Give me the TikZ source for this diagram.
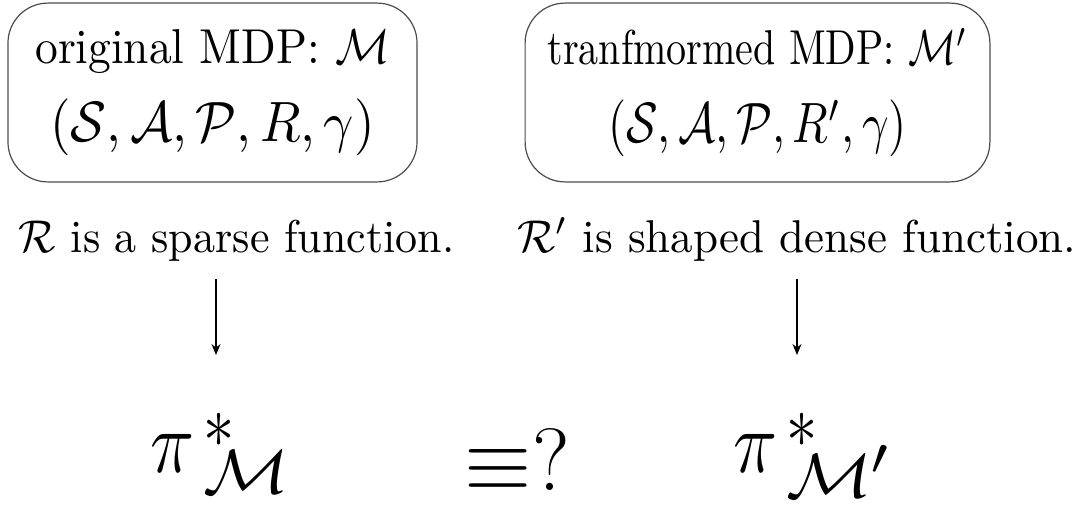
\documentclass[tikz,border=0pt]{standalone}
\usepackage{graphicx}
\usetikzlibrary{arrows.meta}
\newcommand{\lowstar}{\smash{\raisebox{-2pt}{$\scriptstyle *$}}}
\newcommand{\flatsub}[1]{\scalebox{1.15}[0.85]{$\scriptstyle #1$}}
\newcommand{\bigline}[1]{\scalebox{1.16}{$#1$}}
\begin{document}
\begin{tikzpicture}[x=1pt,y=1pt]
\tikzset{
  mdpbox/.style={draw=black!70, line width=1.2pt, rounded corners=40pt, align=center,
    font=\fontsize{10}{15.9}\selectfont, yscale=4.9, transform shape, inner sep=0pt},
  lab/.style={font=\fontsize{10}{12}\selectfont, yscale=4.6, transform shape, inner sep=0pt},
  big/.style={font=\Huge, xscale=3.0, yscale=3.55, transform shape, inner sep=0pt},
  arr/.style={line width=1.1pt, -{Stealth[length=11pt,width=9pt]}}
}
\useasboundingbox (0,0) rectangle (1086,-506);
\node[mdpbox, xscale=4.55, minimum width=89.9pt, minimum height=36.5pt] (box1) at (212.5,-92.5)
  {original MDP: $\mathcal{M}$\\\bigline{(\mathcal{S},\mathcal{A},\mathcal{P},R,\gamma)}};
\node[mdpbox, xscale=4.0, minimum width=116.2pt, minimum height=36.5pt] (box2) at (757.5,-92.5)
  {tranfmormed MDP: $\mathcal{M}'$\\\bigline{(\mathcal{S},\mathcal{A},\mathcal{P},R',\gamma)}};
\node[lab, xscale=4.4, anchor=base west] (lab1) at (18,-252) {$\mathcal{R}$ is a sparse function.};
\node[lab, xscale=4.5, anchor=base east] (lab2) at (1077,-252) {$\mathcal{R}'$ is shaped dense function.};
\node[big, anchor=base west] (pi1) at (150,-472) {${\pi\mkern2mu}^{\lowstar}_{\flatsub{\mathcal{M}}}$};
\node[big, xscale=1.16, anchor=base west] (eq) at (464,-490) {$\equiv$?};
\node[big, anchor=base west] (pi2) at (733,-472) {${\pi\mkern2mu}^{\lowstar}_{\flatsub{\mathcal{M}'}}$};
\coordinate (a1s) at (216,-279);
\coordinate (a1e) at (216,-355);
\coordinate (a2s) at (797,-279);
\coordinate (a2e) at (797,-355);
\draw[arr] (a1s) -- (a1e);
\draw[arr] (a2s) -- (a2e);
\end{tikzpicture}
\end{document}
